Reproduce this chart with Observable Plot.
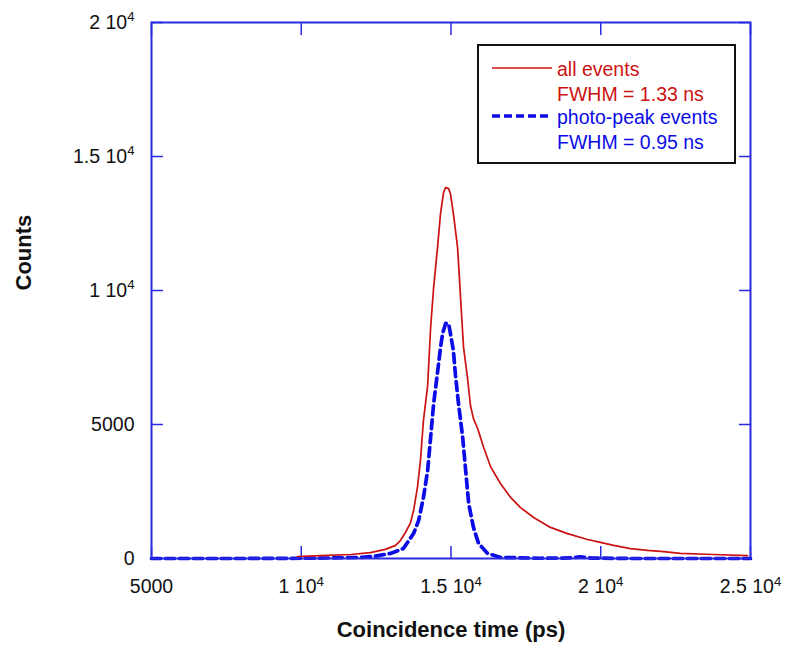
<!DOCTYPE html>
<html>
<head>
<meta charset="utf-8">
<script src="https://cdn.jsdelivr.net/npm/d3@7"></script>
<script src="https://cdn.jsdelivr.net/npm/@observablehq/plot@0.6"></script>
<style>
  html, body { margin: 0; padding: 0; background: #fff; }
  #chart svg { display: block; font-family: "Liberation Sans", Arial, sans-serif; }
</style>
</head>
<body>
<div id="chart"></div>
<script>
// ---- data ----
const allTime = [9875,10640,11650,12310,12810,13150,13310,13480,13650,13750,13880,13980,14080,14220,14320,14420,14550,14650,14750,14820,14920,14980,15080,15220,15280,15350,15420,15550,15650,15750,15890,16090,16320,16650,16990,17320,17760,18320,18890,19560,19990,20430,20990,21560,22100,22660,23770,24900];
const allCounts = [75,110,150,220,340,490,670,970,1340,1790,2650,3660,5150,6450,8620,10110,11600,12870,13650,13840,13800,13620,12870,11600,10480,9140,7870,6750,5710,5220,4850,4140,3430,2800,2280,1900,1530,1160,930,710,600,490,370,300,260,190,150,110];

const photoTime = [5000,8000,10000,11000,12000,12410,12980,13410,13750,13920,14080,14220,14320,14420,14550,14650,14720,14820,14920,14980,15080,15150,15250,15390,15490,15590,15750,15920,16220,16650,18000,19000,19320,19700,21000,25000];
const photoCounts = [0,0,10,20,40,75,190,370,930,1420,2280,3280,4520,5780,6940,7870,8400,8770,8770,8400,7760,6830,5780,4520,3280,2050,1160,560,190,40,10,20,60,15,0,0];

const xTicks = [5000,10000,15000,20000,25000];
const xTickLabels = ["5000","1 10^4","1.5 10^4","2 10^4","2.5 10^4"];
const yTicks = [0,5000,10000,15000,20000];
const yTickLabels = ["0","5000","1 10^4","1.5 10^4","2 10^4"];

const legendLabels = ["all events","FWHM = 1.33 ns","photo-peak events","FWHM = 0.95 ns"];
const xTitle = "Coincidence time (ps)";
const yTitle = "Counts";

// ---- tables ----
const allData = allTime.map((t, i) => ({t, c: allCounts[i]}));
const photoData = photoTime.map((t, i) => ({t, c: photoCounts[i]}));

const RED = "#cc1111";
const BLUE = "#0b0be6";
const FRAME = "#2a2ae0";
const FS = 19.5;

const plot = Plot.plot({
  width: 787,
  height: 656,
  marginLeft: 151,
  marginRight: 37,
  marginTop: 22,
  marginBottom: 98,
  style: {fontFamily: "Liberation Sans, Arial, sans-serif", background: "#fff"},
  x: {domain: [5000, 25000]},
  y: {domain: [0, 20000]},
  marks: [
    // tick labels
    Plot.axisX({anchor: "bottom", ticks: xTicks, tickSize: 0, tickPadding: 21, fontSize: FS, fill: "#111",
      tickFormat: (d) => xTickLabels[xTicks.indexOf(d)], label: null}),
    Plot.axisY({anchor: "left", ticks: yTicks, tickSize: 0, tickPadding: 17, fontSize: FS, fill: "#111",
      tickFormat: (d) => yTickLabels[yTicks.indexOf(d)], label: null}),
    // inward ticks on all four sides
    Plot.axisX({anchor: "bottom", ticks: xTicks, tickSize: -12, text: null, stroke: FRAME, strokeWidth: 1.5, label: null}),
    Plot.axisX({anchor: "top", ticks: xTicks, tickSize: -12, text: null, stroke: FRAME, strokeWidth: 1.5, label: null}),
    Plot.axisY({anchor: "left", ticks: yTicks, tickSize: -12, text: null, stroke: FRAME, strokeWidth: 1.5, label: null}),
    Plot.axisY({anchor: "right", ticks: yTicks, tickSize: -12, text: null, stroke: FRAME, strokeWidth: 1.5, label: null}),
    // series
    Plot.line(photoData, {x: "t", y: "c", stroke: BLUE, strokeWidth: 3.7, strokeDasharray: "9,5"}),
    Plot.line(allData, {x: "t", y: "c", stroke: RED, strokeWidth: 1.7}),
    Plot.frame({stroke: FRAME, strokeWidth: 2}),
    // axis titles
    Plot.text([xTitle], {frameAnchor: "bottom", dy: 78, text: d => d, fontSize: 22, fontWeight: "bold", fill: "#111"}),
    Plot.text([yTitle], {frameAnchor: "left", dx: -128, rotate: -90, text: d => d, fontSize: 22, fontWeight: "bold", fill: "#111"})
  ]
});

// superscript exponents in tick labels
d3.select(plot).selectAll('g[aria-label$="tick label"] text').each(function () {
  const t = this.textContent;
  if (t.includes("^")) {
    const [b, e] = t.split("^");
    const sel = d3.select(this);
    sel.text(null);
    sel.append("tspan").text(b);
    sel.append("tspan").attr("dy", "-0.55em").attr("font-size", "0.68em").text(e);
  }
});

// legend box
const svg = d3.select(plot);
const lg = svg.append("g").attr("font-family", "Liberation Sans, Arial, sans-serif")
  .attr("font-size", 19.5).attr("text-anchor", "start");
lg.append("rect").attr("x", 478).attr("y", 45).attr("width", 257).attr("height", 118)
  .attr("fill", "#fff").attr("stroke", "#111").attr("stroke-width", 2);
lg.append("line").attr("x1", 492).attr("x2", 552).attr("y1", 68).attr("y2", 68).attr("stroke", RED).attr("stroke-width", 1.7);
lg.append("line").attr("x1", 492).attr("x2", 552).attr("y1", 116).attr("y2", 116).attr("stroke", BLUE).attr("stroke-width", 3.5).attr("stroke-dasharray", "8,4");
const rows = [76, 101, 124, 149];
legendLabels.forEach((s, i) => {
  lg.append("text").attr("x", 557).attr("y", rows[i]).attr("text-anchor", "start")
    .attr("fill", i < 2 ? RED : BLUE).text(s);
});

document.getElementById("chart").appendChild(plot);
</script>
</body>
</html>
